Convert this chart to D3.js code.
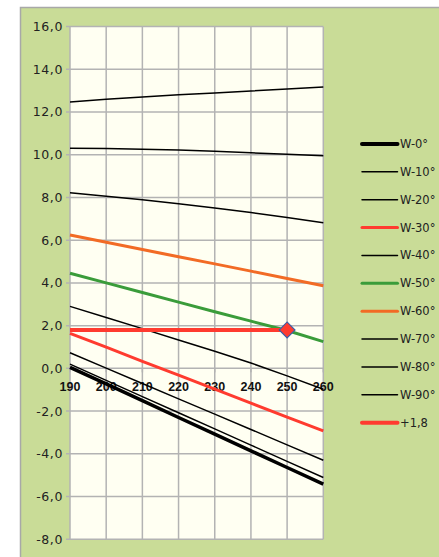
<!DOCTYPE html>
<html><head><meta charset="utf-8">
<script src="https://cdn.jsdelivr.net/npm/d3@7"></script>
<style>body{margin:0;background:#fff;}svg{display:block;font-family:"DejaVu Sans",sans-serif;}</style>
</head><body>
<script>
const xValues = [190, 200, 210, 220, 230, 240, 250, 260];
const seriesNames = ["W-0°","W-10°","W-20°","W-30°","W-40°","W-50°","W-60°","W-70°","W-80°","W-90°"];
const w0  = [0.05, -0.73, -1.51, -2.30, -3.08, -3.86, -4.64, -5.42];
const w10 = [0.20, -0.56, -1.32, -2.08, -2.83, -3.59, -4.35, -5.11];
const w20 = [0.73, 0.01, -0.71, -1.43, -2.14, -2.86, -3.58, -4.30];
const w30 = [1.64, 0.99, 0.33, -0.32, -0.97, -1.63, -2.28, -2.93];
const w40 = [2.90, 2.38, 1.86, 1.33, 0.80, 0.25, -0.35, -0.98];
const w50 = [4.45, 4.00, 3.55, 3.10, 2.65, 2.21, 1.77, 1.25];
const w60 = [6.24, 5.90, 5.56, 5.22, 4.89, 4.55, 4.21, 3.87];
const w70 = [8.22, 8.06, 7.89, 7.70, 7.50, 7.29, 7.06, 6.82];
const w80 = [10.30, 10.29, 10.26, 10.22, 10.16, 10.09, 10.02, 9.95];
const w90 = [12.47, 12.59, 12.70, 12.80, 12.89, 12.98, 13.07, 13.17];
const refName = "+1,8";
const refX = [190, 250];
const refY = [1.8, 1.8];
const yTicks = [-8, -6, -4, -2, 0, 2, 4, 6, 8, 10, 12, 14, 16];
const xTicks = [190, 200, 210, 220, 230, 240, 250, 260];

const seriesValues = [w0, w10, w20, w30, w40, w50, w60, w70, w80, w90];
const colors = ["#000","#000","#000","#ff3b2f","#000","#3a9c3a","#f26b25","#000","#000","#000"];
const widths = [3.5,1.5,1.5,3,1.5,3,3,1.5,1.5,1.5];

const W = 439, H = 557;
const svg = d3.select("body").append("svg").attr("width", W).attr("height", H);
svg.append("rect").attr("x",20.5).attr("y",7.5).attr("width",430).attr("height",570)
  .attr("fill","#c9dc97").attr("stroke","#a8a8a8").attr("stroke-width",1.5);

const L = 70, R = 323.3, T = 26.5, B = 539.3;
const x = d3.scaleLinear().domain([190, 260]).range([L, R]);
const y = d3.scaleLinear().domain([-8, 16]).range([B, T]);

svg.append("rect").attr("x",L).attr("y",T).attr("width",R-L).attr("height",B-T).attr("fill","#fffff2");

// grid
const g = svg.append("g");
g.selectAll(".hy").data(yTicks).join("line")
  .attr("x1",L-4).attr("x2",R).attr("y1",d=>y(d)).attr("y2",d=>y(d))
  .attr("stroke","#b3b3b3").attr("stroke-width",1.5);
g.selectAll(".vx").data(xTicks).join("line")
  .attr("x1",d=>x(d)).attr("x2",d=>x(d)).attr("y1",T).attr("y2",B)
  .attr("stroke","#b3b3b3").attr("stroke-width",1.5);
g.selectAll(".tx").data(xTicks).join("line")
  .attr("x1",d=>x(d)).attr("x2",d=>x(d)).attr("y1",y(0)).attr("y2",y(0)+4)
  .attr("stroke","#b3b3b3").attr("stroke-width",1.5);

// y labels
const fmt = d => d3.format(".1f")(d).replace(".", ",").replace("−","-");
svg.selectAll(".yl").data(yTicks).join("text")
  .attr("x",63).attr("y",d=>y(d)+4.5).attr("text-anchor","end")
  .attr("font-size",12.5).attr("letter-spacing",0.6).attr("fill","#222").text(fmt);
// x labels
svg.selectAll(".xl").data(xTicks).join("text")
  .attr("x",d=>x(d)).attr("y",y(0)+23).attr("text-anchor","middle")
  .attr("font-family","'Liberation Sans',Arial,sans-serif")
  .attr("font-size",12.5).attr("font-weight","bold").attr("fill","#111").text(d=>d);

const line = d3.line().x(d=>x(d[0])).y(d=>y(d[1]));
const order = [9,8,7,6,5,4,3,2,1,0];
order.forEach(i=>{
  svg.append("path").datum(xValues.map((xv,j)=>[xv, seriesValues[i][j]]))
    .attr("d",line).attr("fill","none").attr("stroke",colors[i]).attr("stroke-width",widths[i]);
});
svg.append("path").datum(refX.map((xv,j)=>[xv, refY[j]]))
  .attr("d",line).attr("fill","none").attr("stroke","#ff3b2f").attr("stroke-width",4);
svg.append("path").attr("d", d3.symbol(d3.symbolSquare, 125)())
  .attr("transform",`translate(${x(refX[1])},${y(refY[1])}) rotate(45)`)
  .attr("fill","#ff3b2f").attr("stroke","#3a5fa8").attr("stroke-width",1.2);

// legend
const legNames = seriesNames.concat([refName]);
const legColors = colors.concat(["#ff3b2f"]);
const legWidths = [4,1.5,1.5,3,1.5,3,3,1.5,1.5,1.5,4];
const lg = svg.append("g");
legNames.forEach((n,i)=>{
  const yy = 144 + i*27.87;
  lg.append("line").attr("x1",362).attr("x2",397.5).attr("y1",yy).attr("y2",yy)
    .attr("stroke",legColors[i]).attr("stroke-width",legWidths[i]).attr("stroke-linecap","round");
  lg.append("text").attr("x",400).attr("y",yy+4).attr("font-size",11.5).attr("fill","#222").text(n);
});
</script>
</body></html>
